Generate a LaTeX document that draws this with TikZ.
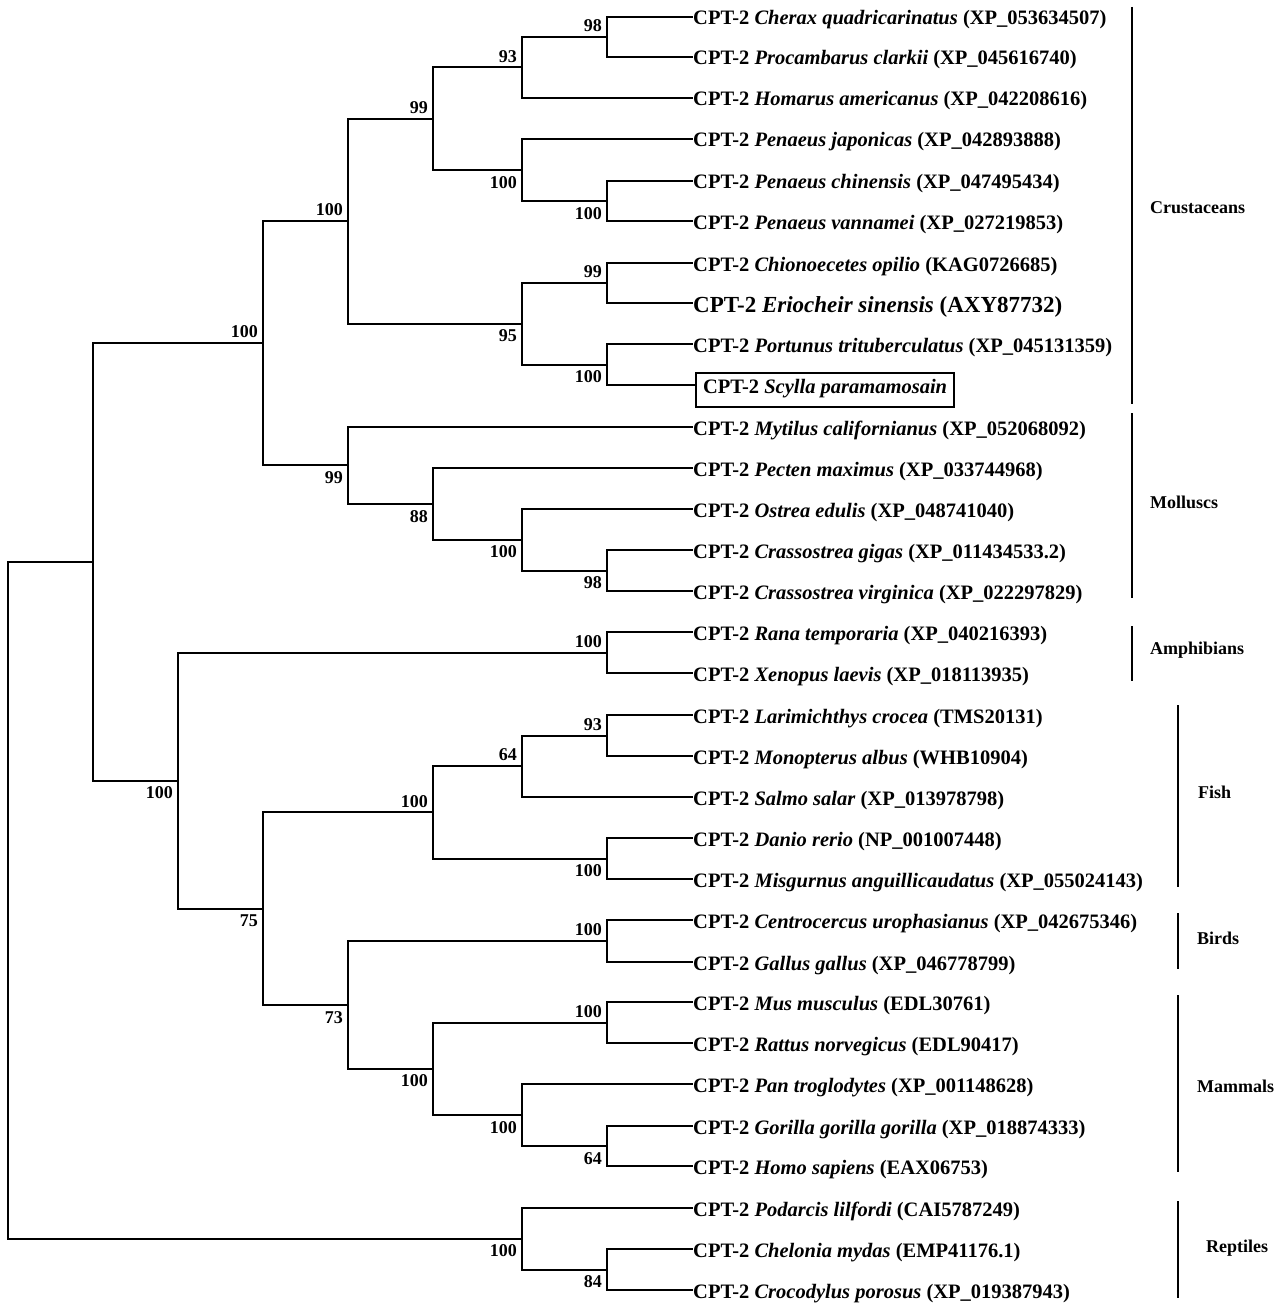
\documentclass[tikz,border=0pt]{standalone}
\usepackage{fontspec}
\setmainfont{Liberation Serif}
\tikzset{
  treeline/.style={line width=2pt},
  tip/.style={anchor=west, inner sep=0pt, text height=16pt, text depth=0pt, font=\fontsize{20.5}{23}\selectfont\bfseries},
  bsup/.style={anchor=south east, inner sep=0pt, xshift=-5pt, yshift=5pt, font=\fontsize{18}{20}\selectfont\bfseries},
  bsdown/.style={anchor=north east, inner sep=0pt, xshift=-5pt, yshift=-6pt, font=\fontsize{18}{20}\selectfont\bfseries},
  cladebar/.style={line width=2.6pt},
  cladename/.style={anchor=west, inner sep=0pt, font=\fontsize{18}{20}\selectfont\bfseries}
}
\begin{document}
\begin{tikzpicture}[x=1pt,y=-1pt]
  \useasboundingbox (0,0) rectangle (1281,1308);
  % tips
  \node[tip] (cherax) at (693,17) {CPT-2 \textit{Cherax quadricarinatus} (XP\_053634507)};
  \node[tip] (procambarus) at (693,57) {CPT-2 \textit{Procambarus clarkii} (XP\_045616740)};
  \node[tip] (homarus) at (693,98) {CPT-2 \textit{Homarus americanus} (XP\_042208616)};
  \node[tip] (japonicas) at (693,139) {CPT-2 \textit{Penaeus japonicas} (XP\_042893888)};
  \node[tip] (chinensis) at (693,181) {CPT-2 \textit{Penaeus chinensis} (XP\_047495434)};
  \node[tip] (vannamei) at (693,221) {CPT-2 \textit{Penaeus vannamei} (XP\_027219853)};
  \node[tip] (chionoecetes) at (693,263) {CPT-2 \textit{Chionoecetes opilio} (KAG0726685)};
  \node[tip, text height=18pt, font=\fontsize{23}{26}\selectfont\bfseries] (eriocheir) at (693,303) {CPT-2 \textit{Eriocheir sinensis} (AXY87732)};
  \node[tip] (portunus) at (693,344) {CPT-2 \textit{Portunus trituberculatus} (XP\_045131359)};
  \node[tip, draw, line width=2pt, text depth=10pt, inner xsep=7pt, inner ysep=4pt] (scylla) at (695,390) {CPT-2 \textit{Scylla paramamosain}};
  \node[tip] (mytilus) at (693,427) {CPT-2 \textit{Mytilus californianus} (XP\_052068092)};
  \node[tip] (pecten) at (693,468) {CPT-2 \textit{Pecten maximus} (XP\_033744968)};
  \node[tip] (ostrea) at (693,509) {CPT-2 \textit{Ostrea edulis} (XP\_048741040)};
  \node[tip] (gigas) at (693,550) {CPT-2 \textit{Crassostrea gigas} (XP\_011434533.2)};
  \node[tip] (virginica) at (693,591) {CPT-2 \textit{Crassostrea virginica} (XP\_022297829)};
  \node[tip] (rana) at (693,632) {CPT-2 \textit{Rana temporaria} (XP\_040216393)};
  \node[tip] (xenopus) at (693,673) {CPT-2 \textit{Xenopus laevis} (XP\_018113935)};
  \node[tip] (larimichthys) at (693,715) {CPT-2 \textit{Larimichthys crocea} (TMS20131)};
  \node[tip] (monopterus) at (693,756) {CPT-2 \textit{Monopterus albus} (WHB10904)};
  \node[tip] (salmo) at (693,797) {CPT-2 \textit{Salmo salar} (XP\_013978798)};
  \node[tip] (danio) at (693,838) {CPT-2 \textit{Danio rerio} (NP\_001007448)};
  \node[tip] (misgurnus) at (693,879) {CPT-2 \textit{Misgurnus anguillicaudatus} (XP\_055024143)};
  \node[tip] (centrocercus) at (693,920) {CPT-2 \textit{Centrocercus urophasianus} (XP\_042675346)};
  \node[tip] (gallus) at (693,962) {CPT-2 \textit{Gallus gallus} (XP\_046778799)};
  \node[tip] (mus) at (693,1002) {CPT-2 \textit{Mus musculus} (EDL30761)};
  \node[tip] (rattus) at (693,1043) {CPT-2 \textit{Rattus norvegicus} (EDL90417)};
  \node[tip] (pan) at (693,1084) {CPT-2 \textit{Pan troglodytes} (XP\_001148628)};
  \node[tip] (gorilla) at (693,1126) {CPT-2 \textit{Gorilla gorilla gorilla} (XP\_018874333)};
  \node[tip] (homo) at (693,1166) {CPT-2 \textit{Homo sapiens} (EAX06753)};
  \node[tip] (podarcis) at (693,1208) {CPT-2 \textit{Podarcis lilfordi} (CAI5787249)};
  \node[tip] (chelonia) at (693,1249) {CPT-2 \textit{Chelonia mydas} (EMP41176.1)};
  \node[tip] (crocodylus) at (693,1290) {CPT-2 \textit{Crocodylus porosus} (XP\_019387943)};

  % inner nodes
  \coordinate (root) at (8,900);
  \coordinate (bilateria) at (93,562);
  \coordinate (invert) at (263,343.3);
  \coordinate (crust) at (348,221.3);
  \coordinate (decapod) at (433,118.8);
  \coordinate (lobster) at (522,67.5);
  \coordinate (crayfish) at (607,37);
  \coordinate (shrimp) at (522,170);
  \coordinate (penaeus) at (607,201);
  \coordinate (crab) at (522,323.8);
  \coordinate (majoid) at (607,283);
  \coordinate (portunid) at (607,364.5);
  \coordinate (mollusc) at (348,465.4);
  \coordinate (bivalve) at (433,503.9);
  \coordinate (oyster) at (522,539.8);
  \coordinate (crassostrea) at (607,570.5);
  \coordinate (vert) at (178,780.6);
  \coordinate (frog) at (607,652.5);
  \coordinate (amniote) at (263,908.6);
  \coordinate (fish) at (433,812.4);
  \coordinate (perch) at (522,766.3);
  \coordinate (eel) at (607,735.5);
  \coordinate (carp) at (607,858.5);
  \coordinate (bird) at (348,1004.9);
  \coordinate (fowl) at (607,941);
  \coordinate (mammal) at (433,1068.8);
  \coordinate (rodent) at (607,1022.5);
  \coordinate (ape) at (522,1115);
  \coordinate (homininae) at (607,1146);
  \coordinate (reptile) at (522,1238.8);
  \coordinate (turtle) at (607,1269.5);

  % branches
  \draw[treeline] (root) |- (bilateria);
  \draw[treeline] (root) |- (reptile);
  \draw[treeline] (bilateria) |- (invert);
  \draw[treeline] (bilateria) |- (vert);
  \draw[treeline] (invert) |- (crust);
  \draw[treeline] (invert) |- (mollusc);
  \draw[treeline] (crust) |- (decapod);
  \draw[treeline] (crust) |- (crab);
  \draw[treeline] (decapod) |- (lobster);
  \draw[treeline] (decapod) |- (shrimp);
  \draw[treeline] (lobster) |- (crayfish);
  \draw[treeline] (lobster) |- (homarus.west);
  \draw[treeline] (crayfish) |- (cherax.west);
  \draw[treeline] (crayfish) |- (procambarus.west);
  \draw[treeline] (shrimp) |- (japonicas.west);
  \draw[treeline] (shrimp) |- (penaeus);
  \draw[treeline] (penaeus) |- (chinensis.west);
  \draw[treeline] (penaeus) |- (vannamei.west);
  \draw[treeline] (crab) |- (majoid);
  \draw[treeline] (crab) |- (portunid);
  \draw[treeline] (majoid) |- (chionoecetes.west);
  \draw[treeline] (majoid) |- (eriocheir.west);
  \draw[treeline] (portunid) |- (portunus.west);
  \draw[treeline] (portunid) |- ([yshift=5pt]scylla.west);
  \draw[treeline] (mollusc) |- (mytilus.west);
  \draw[treeline] (mollusc) |- (bivalve);
  \draw[treeline] (bivalve) |- (pecten.west);
  \draw[treeline] (bivalve) |- (oyster);
  \draw[treeline] (oyster) |- (ostrea.west);
  \draw[treeline] (oyster) |- (crassostrea);
  \draw[treeline] (crassostrea) |- (gigas.west);
  \draw[treeline] (crassostrea) |- (virginica.west);
  \draw[treeline] (vert) |- (frog);
  \draw[treeline] (vert) |- (amniote);
  \draw[treeline] (frog) |- (rana.west);
  \draw[treeline] (frog) |- (xenopus.west);
  \draw[treeline] (amniote) |- (fish);
  \draw[treeline] (amniote) |- (bird);
  \draw[treeline] (fish) |- (perch);
  \draw[treeline] (fish) |- (carp);
  \draw[treeline] (perch) |- (eel);
  \draw[treeline] (perch) |- (salmo.west);
  \draw[treeline] (eel) |- (larimichthys.west);
  \draw[treeline] (eel) |- (monopterus.west);
  \draw[treeline] (carp) |- (danio.west);
  \draw[treeline] (carp) |- (misgurnus.west);
  \draw[treeline] (bird) |- (fowl);
  \draw[treeline] (bird) |- (mammal);
  \draw[treeline] (fowl) |- (centrocercus.west);
  \draw[treeline] (fowl) |- (gallus.west);
  \draw[treeline] (mammal) |- (rodent);
  \draw[treeline] (mammal) |- (ape);
  \draw[treeline] (rodent) |- (mus.west);
  \draw[treeline] (rodent) |- (rattus.west);
  \draw[treeline] (ape) |- (pan.west);
  \draw[treeline] (ape) |- (homininae);
  \draw[treeline] (homininae) |- (gorilla.west);
  \draw[treeline] (homininae) |- (homo.west);
  \draw[treeline] (reptile) |- (podarcis.west);
  \draw[treeline] (reptile) |- (turtle);
  \draw[treeline] (turtle) |- (chelonia.west);
  \draw[treeline] (turtle) |- (crocodylus.west);

  % bootstrap values
  \node[bsup] (bs-invert) at (invert) {100};
  \node[bsdown] (bs-vert) at (vert) {100};
  \node[bsup] (bs-crust) at (crust) {100};
  \node[bsdown] (bs-mollusc) at (mollusc) {99};
  \node[bsup] (bs-decapod) at (decapod) {99};
  \node[bsdown] (bs-crab) at (crab) {95};
  \node[bsup] (bs-lobster) at (lobster) {93};
  \node[bsdown] (bs-shrimp) at (shrimp) {100};
  \node[bsup] (bs-crayfish) at (crayfish) {98};
  \node[bsdown] (bs-penaeus) at (penaeus) {100};
  \node[bsup] (bs-majoid) at (majoid) {99};
  \node[bsdown] (bs-portunid) at (portunid) {100};
  \node[bsdown] (bs-bivalve) at (bivalve) {88};
  \node[bsdown] (bs-oyster) at (oyster) {100};
  \node[bsdown] (bs-crassostrea) at (crassostrea) {98};
  \node[bsup] (bs-frog) at (frog) {100};
  \node[bsdown] (bs-amniote) at (amniote) {75};
  \node[bsup] (bs-fish) at (fish) {100};
  \node[bsdown] (bs-bird) at (bird) {73};
  \node[bsup] (bs-perch) at (perch) {64};
  \node[bsdown] (bs-carp) at (carp) {100};
  \node[bsup] (bs-eel) at (eel) {93};
  \node[bsup] (bs-fowl) at (fowl) {100};
  \node[bsdown] (bs-mammal) at (mammal) {100};
  \node[bsup] (bs-rodent) at (rodent) {100};
  \node[bsdown] (bs-ape) at (ape) {100};
  \node[bsdown] (bs-homininae) at (homininae) {64};
  \node[bsdown] (bs-reptile) at (reptile) {100};
  \node[bsdown] (bs-turtle) at (turtle) {84};

  % groups
  \draw[cladebar] (1132,7) -- (1132,404);
  \node[cladename] (crustaceans) at (1150,208) {Crustaceans};
  \draw[cladebar] (1132,413) -- (1132,598);
  \node[cladename] (molluscs) at (1150,502) {Molluscs};
  \draw[cladebar] (1132,626) -- (1132,681);
  \node[cladename] (amphibians) at (1150,650) {Amphibians};
  \draw[cladebar] (1178,705) -- (1178,887);
  \node[cladename] (fishes) at (1198,792) {Fish};
  \draw[cladebar] (1178,913) -- (1178,969);
  \node[cladename] (birds) at (1197,938) {Birds};
  \draw[cladebar] (1178,995) -- (1178,1172);
  \node[cladename] (mammals) at (1197,1086) {Mammals};
  \draw[cladebar] (1178,1201) -- (1178,1298);
  \node[cladename] (reptiles) at (1206,1248) {Reptiles};
\end{tikzpicture}
\end{document}
